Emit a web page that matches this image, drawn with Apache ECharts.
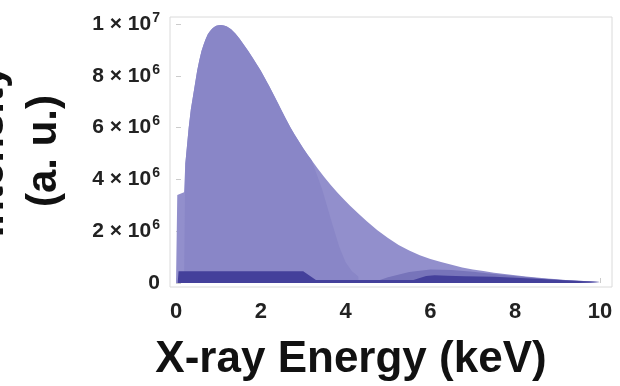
<!DOCTYPE html>
<html>
<head>
<meta charset="utf-8">
<script src="https://cdn.jsdelivr.net/npm/echarts@6/dist/echarts.min.js"></script>
<style>html,body{margin:0;padding:0;background:#fff;}#c{width:620px;height:386px;}</style>
</head>
<body>
<div id="c"></div>
<script>
// ---- data (energy in keV, intensity in a.u.) ----
var envelopeEnergy = [0, 0.03, 0.19, 0.22, 0.3, 0.35, 0.4, 0.45, 0.5, 0.55, 0.6, 0.65, 0.7, 0.75, 0.8, 0.85, 0.9, 0.95, 1.0, 1.05, 1.1, 1.15, 1.2, 1.3, 1.4, 1.5, 1.6, 1.7, 1.8, 1.9, 2.0, 2.1, 2.2, 2.3, 2.4, 2.5, 2.6, 2.7, 2.8, 2.9, 3.0, 3.1, 3.2, 3.35, 3.5, 3.65, 3.8, 3.95, 4.1, 4.3, 4.5, 4.75, 5.0, 5.25, 5.5, 5.75, 6.0, 6.25, 6.5, 6.75, 7.0, 7.25, 7.5, 7.75, 8.0, 8.25, 8.5, 8.75, 9.0, 9.25, 9.5, 9.75, 10.0];
var envelopeIntensity = [0, 3.4e6, 3.5e6, 4.6e6, 6.0e6, 6.7e6, 7.2e6, 7.7e6, 8.2e6, 8.6e6, 8.95e6, 9.2e6, 9.42e6, 9.6e6, 9.72e6, 9.82e6, 9.88e6, 9.93e6, 9.95e6, 9.96e6, 9.95e6, 9.93e6, 9.9e6, 9.8e6, 9.63e6, 9.43e6, 9.2e6, 8.97e6, 8.72e6, 8.46e6, 8.19e6, 7.9e6, 7.6e6, 7.28e6, 6.96e6, 6.63e6, 6.31e6, 6.0e6, 5.72e6, 5.46e6, 5.2e6, 4.96e6, 4.74e6, 4.4e6, 4.08e6, 3.78e6, 3.5e6, 3.24e6, 2.99e6, 2.68e6, 2.38e6, 2.04e6, 1.74e6, 1.47e6, 1.25e6, 1.07e6, 0.93e6, 0.81e6, 0.7e6, 0.6e6, 0.52e6, 0.46e6, 0.4e6, 0.35e6, 0.3e6, 0.25e6, 0.21e6, 0.17e6, 0.14e6, 0.11e6, 0.09e6, 0.065e6, 0.04e6];

// inner layer: follows the envelope from 0.19 to 3.2 keV, then falls off faster
var innerStart = 0.19, innerSplit = 3.2;
var innerDropEnergy = [3.45, 3.7, 3.85, 4.0, 4.15, 4.3];
var innerDropIntensity = [3.6e6, 2.2e6, 1.4e6, 0.8e6, 0.45e6, 0.25e6];

var tailEnergy = [4.6, 5.0, 5.5, 6.0, 6.5, 7.0, 7.5, 8.0, 8.5, 9.0, 9.5, 10.0];
var tailIntensity = [0, 0.22e6, 0.42e6, 0.52e6, 0.5e6, 0.43e6, 0.35e6, 0.27e6, 0.19e6, 0.13e6, 0.085e6, 0.04e6];

var bandEnergy = [0.04, 0.06, 3.0, 3.3, 5.6, 5.9, 6.1, 6.4, 6.8, 7.5, 8.5, 9.5, 10.0];
var bandIntensity = [0, 0.45e6, 0.45e6, 0.12e6, 0.12e6, 0.27e6, 0.3e6, 0.28e6, 0.26e6, 0.24e6, 0.16e6, 0.08e6, 0.04e6];

var xTicks = [0, 2, 4, 6, 8, 10];
var yTicks = [0, 2e6, 4e6, 6e6, 8e6, 1e7];

function pairs(xs, ys) { return xs.map(function (x, i) { return [x, ys[i]]; }); }

var innerData = [[innerStart, 0]].concat(
  pairs(envelopeEnergy, envelopeIntensity).filter(function (p) { return p[0] > innerStart && p[0] <= innerSplit; }),
  pairs(innerDropEnergy, innerDropIntensity)
);

function yLabel(v) {
  if (v === 0) return '{b|0}';
  var e = Math.floor(Math.log10(v) + 1e-9);
  var m = Math.round(v / Math.pow(10, e));
  return '{b|' + m + ' \u00d7 10}{s|' + e + '}';
}

var chart = echarts.init(document.getElementById('c'), null, { renderer: 'canvas' });

function area(name, data, color) {
  return {
    name: name, type: 'line', data: data,
    showSymbol: false, symbol: 'none', silent: true,
    lineStyle: { width: 0 },
    areaStyle: { color: color, opacity: 1 },
    animation: false
  };
}

var FONT = 'Liberation Sans, Arial, sans-serif';

chart.setOption({
  animation: false,
  backgroundColor: '#ffffff',
  grid: { left: 170, right: 8, top: 17, bottom: 99, show: true, borderColor: '#dadada', borderWidth: 1, backgroundColor: 'transparent' },
  xAxis: {
    type: 'value', min: -0.1415, max: 10.283,
    axisLine: { show: false },
    splitLine: { show: false },
    axisTick: { show: true, inside: true, length: 5, lineStyle: { color: '#cccccc' }, customValues: xTicks },
    axisLabel: { customValues: xTicks, margin: 14, fontSize: 22, fontWeight: 'bold', color: '#222', fontFamily: FONT }
  },
  yAxis: {
    type: 'value', min: -0.1544e6, max: 1.027e7,
    axisLine: { show: false },
    splitLine: { show: false },
    axisTick: { show: true, inside: true, length: 5, lineStyle: { color: '#cccccc' }, customValues: yTicks },
    axisLabel: {
      customValues: yTicks, margin: 10, formatter: yLabel,
      rich: {
        b: { fontSize: 21, fontWeight: 'bold', color: '#222', fontFamily: FONT },
        s: { fontSize: 14, fontWeight: 'bold', color: '#222', fontFamily: FONT, padding: [0, 0, 12, 1] }
      }
    }
  },
  series: [
    area('envelope', pairs(envelopeEnergy, envelopeIntensity), '#928fcc'),
    area('inner', innerData, '#8986c7'),
    area('tail', pairs(tailEnergy, tailIntensity), '#7774ba'),
    area('band', pairs(bandEnergy, bandIntensity), '#44409b')
  ],
  graphic: [
    { type: 'text', x: 351, y: 360, style: { text: 'X-ray Energy (keV)', fontSize: 44, fontWeight: 'bold', fill: '#111', align: 'center', verticalAlign: 'middle', fontFamily: FONT } },
    { type: 'text', x: 44, y: 151, rotation: Math.PI / 2, style: { text: '(a. u.)', fontSize: 42, fontWeight: 'bold', fill: '#111', align: 'center', verticalAlign: 'middle', fontFamily: FONT } },
    { type: 'text', x: -9, y: 151, rotation: Math.PI / 2, style: { text: 'Intensity', fontSize: 42, fontWeight: 'bold', fill: '#111', align: 'center', verticalAlign: 'middle', fontFamily: FONT } }
  ]
});
</script>
</body>
</html>
